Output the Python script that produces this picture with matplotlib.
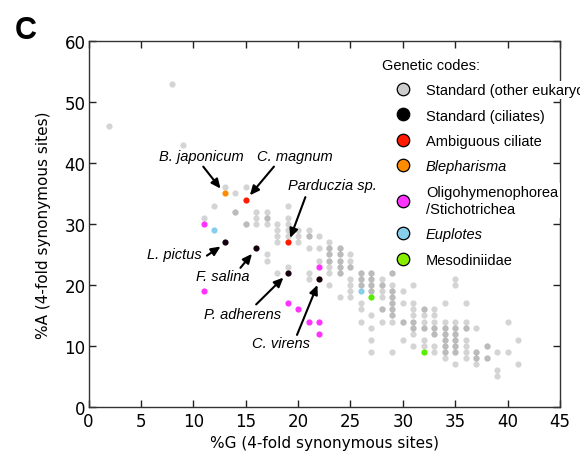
import matplotlib
matplotlib.use('Agg')
import matplotlib.pyplot as plt
from matplotlib.lines import Line2D

# %G / %A at 4-fold synonymous sites, grey = standard code (other eukaryotes)
# repeated entries = overlapping species (drawn darker)
grey_g = [2, 8, 9, 11, 12, 13, 14, 14, 14, 15, 15, 15,
          16, 16, 16, 17, 17, 17, 17, 17, 17,
          18, 18, 18, 18, 18, 19, 19, 19, 19, 19, 19,
          20, 20, 20, 21, 21, 21, 21, 21, 21, 22, 22, 22,
          23, 23, 23, 23, 23, 23, 23, 23, 23, 23,
          24, 24, 24, 24, 24, 24, 24, 24, 24, 24, 24,
          25, 25, 25, 25, 25, 25, 25, 25,
          26, 26, 26, 26, 26, 26, 26, 26, 26,
          27, 27, 27, 27, 27, 27, 27, 27, 27, 27, 27, 27,
          28, 28, 28, 28, 28, 28, 28, 28,
          29, 29, 29, 29, 29, 29, 29, 29, 29, 29, 29, 29, 29, 29, 29,
          30, 30, 30, 30, 30,
          31, 31, 31, 31, 31, 31, 31, 31, 31, 31,
          32, 32, 32, 32, 32, 32, 32, 32,
          33, 33, 33, 33, 33, 33, 33, 33, 33,
          34, 34, 34, 34, 34, 34, 34, 34, 34, 34, 34, 34, 34,
          35, 35, 35, 35, 35, 35, 35, 35, 35, 35, 35, 35, 35, 35,
          36, 36, 36, 36, 36, 36, 36, 36,
          37, 37, 37, 37, 37, 37, 38, 38, 38, 38,
          39, 39, 39, 40, 40, 41, 41]
grey_a = [46, 53, 43, 31, 33, 36, 35, 32, 32, 36, 30, 30,
          32, 31, 30, 32, 31, 31, 30, 25, 24,
          30, 29, 28, 27, 22, 33, 31, 30, 29, 28, 23,
          29, 28, 27, 29, 28, 28, 26, 22, 21, 28, 26, 24,
          27, 26, 26, 25, 25, 24, 24, 23, 22, 20,
          26, 26, 25, 25, 24, 24, 23, 23, 22, 22, 18,
          25, 24, 23, 23, 21, 20, 19, 18,
          22, 22, 21, 21, 20, 20, 17, 16, 14,
          22, 22, 21, 21, 20, 20, 19, 19, 15, 13, 11, 9,
          21, 20, 20, 19, 18, 16, 16, 14,
          22, 22, 20, 19, 19, 18, 18, 17, 17, 16, 16, 15, 15, 14, 9,
          19, 17, 14, 14, 11,
          20, 17, 16, 15, 14, 14, 13, 13, 12, 10,
          16, 16, 15, 14, 13, 13, 11, 10,
          16, 15, 14, 13, 13, 12, 12, 10, 9,
          17, 14, 13, 13, 12, 12, 11, 11, 10, 10, 9, 9, 8,
          21, 20, 14, 13, 13, 12, 12, 11, 11, 10, 10, 9, 9, 7,
          17, 14, 13, 13, 11, 10, 9, 8,
          13, 9, 9, 8, 8, 7, 10, 10, 8, 8,
          9, 6, 5, 14, 9, 11, 7]

ciliate_g = [13, 16, 19, 22]          # L. pictus, F. salina, P. adherens, C. virens
ciliate_a = [27, 26, 22, 21]
ambig_g = [15, 19]                    # C. magnum, Parduczia sp.
ambig_a = [34, 27]
bleph_g = [13]                        # B. japonicum
bleph_a = [35]
oligo_g = [11, 11, 19, 20, 21, 22, 22, 22]
oligo_a = [30, 19, 17, 16, 14, 14, 12, 23]
eupl_g = [12, 26]
eupl_a = [29, 19]
meso_g = [27, 32]
meso_a = [18, 9]

# species labels: name, text position, arrow tail, arrow head
labels = ['B. japonicum', 'C. magnum', 'Parduczia sp.', 'L. pictus',
          'F. salina', 'P. adherens', 'C. virens']
label_xy = [(10.8, 41.2), (19.7, 41.2), (23.3, 36.4), (8.15, 25.0),
            (12.85, 21.4), (14.7, 15.3), (18.4, 10.4)]
arrow_from = [(10.95, 39.4), (17.7, 39.4), (20.7, 34.4), (11.3, 24.8),
              (14.5, 22.8), (16.0, 16.8), (19.9, 11.8)]
arrow_to = [(12.6, 35.8), (15.4, 34.7), (19.25, 27.7), (12.6, 26.3),
            (15.6, 25.1), (18.6, 21.2), (21.85, 20.0)]

c_grey = '#999999'
c_ambig = '#ff1a00'
c_bleph = '#ff8c00'
c_oligo = '#ff33ff'
c_eupl = '#87ceeb'
c_meso = '#55ee00'

helv = ['Liberation Sans', 'DejaVu Sans']

fig = plt.figure(figsize=(5.8, 4.6), dpi=100)
ax = fig.add_axes([0.1526, 0.1133, 0.8129, 0.7954])

s = 20
ax.scatter(grey_g, grey_a, s=s, c=c_grey, alpha=0.42, linewidths=0, zorder=2)
ax.scatter(ciliate_g, ciliate_a, s=s, c='#150010', linewidths=0, zorder=3)
ax.scatter(ambig_g, ambig_a, s=s, c=c_ambig, linewidths=0, zorder=3)
ax.scatter(bleph_g, bleph_a, s=s, c=c_bleph, linewidths=0, zorder=3)
ax.scatter(oligo_g, oligo_a, s=s, c=c_oligo, linewidths=0, zorder=3)
ax.scatter(eupl_g, eupl_a, s=s, c=c_eupl, linewidths=0, zorder=3)
ax.scatter(meso_g, meso_a, s=s, c=c_meso, linewidths=0, zorder=3)

for name, txy, a0, a1 in zip(labels, label_xy, arrow_from, arrow_to):
    ax.text(txy[0], txy[1], name, ha='center', va='center', fontsize=10.5,
            style='italic', family=helv)
    ax.annotate('', xy=a1, xytext=a0,
                arrowprops=dict(arrowstyle='-|>,head_length=0.55,head_width=0.25',
                                lw=1.5, color='k', shrinkA=0, shrinkB=0))

ax.set_xlim(0, 45)
ax.set_ylim(0, 60)
ax.set_xticks(range(0, 46, 5))
ax.set_yticks(range(0, 61, 10))
ax.tick_params(direction='in', top=True, right=True, length=5, width=1,
               labelsize=12, colors='#222222', labelcolor='k')
ax.tick_params(axis='x', pad=4)
ax.tick_params(axis='y', pad=2)
for sp in ax.spines.values():
    sp.set_linewidth(1)
    sp.set_color('#333333')

ax.set_xlabel('%G (4-fold synonymous sites)', fontsize=11, labelpad=3)
ax.set_ylabel('%A (4-fold synonymous sites)', fontsize=11, labelpad=10)

# legend
leg_cols = ['#cccccc', 'black', c_ambig, c_bleph, c_oligo, c_eupl, '#88ee00']
leg_names = ['Standard (other eukaryotes)', 'Standard (ciliates)', 'Ambiguous ciliate',
             'Blepharisma', 'Oligohymenophorea\n/Stichotrichea', 'Euplotes', 'Mesodiniidae']
handles = [Line2D([], [], ls='none', marker='o', ms=9, mfc=c, mec='black', mew=0.9)
           for c in leg_cols]
leg = ax.legend(handles, leg_names, title='Genetic codes:', loc='upper left',
                bbox_to_anchor=(0.6225, 0.954), frameon=False, borderpad=0,
                borderaxespad=0, handlelength=2.9, handletextpad=0.1,
                labelspacing=0.78, alignment='left',
                prop={'family': helv, 'size': 10.5},
                title_fontproperties={'family': helv, 'size': 10.5})
leg.set_zorder(5)
for t in leg.get_texts():
    t.set_bbox(dict(facecolor='white', edgecolor='none', pad=1.5))
    t.set_linespacing(1.3)
    if t.get_text() in ('Blepharisma', 'Euplotes'):
        t.set_style('italic')

fig.text(0.025, 0.965, 'C', fontsize=22, fontweight='bold', va='top', ha='left',
         family=helv)

fig.savefig('out.png', dpi=100)
